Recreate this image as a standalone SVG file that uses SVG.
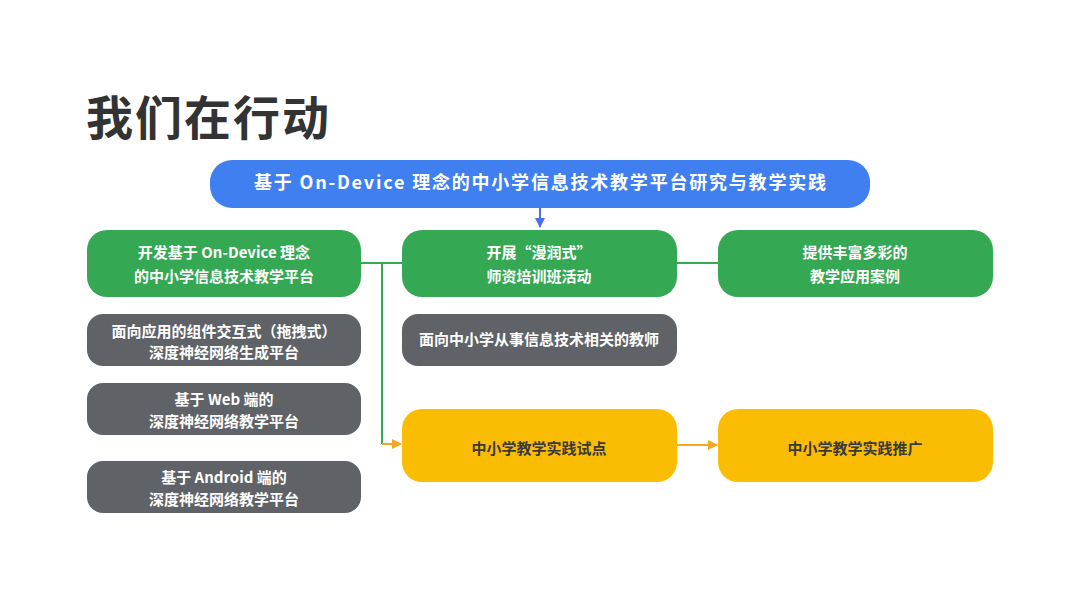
<svg xmlns="http://www.w3.org/2000/svg" width="1080" height="609" viewBox="0 0 1080 609">
<defs>
<style>
.t{font-family:"Noto Sans CJK SC","Noto Sans",sans-serif;font-weight:700;text-anchor:middle;}
.w{fill:#ffffff;font-size:15px;}
.d{fill:#3a3a3a;font-size:15px;}
.green{fill:#34a853;}
.gray{fill:#5f6368;}
.yel{fill:#fbbc04;}
</style>
<marker id="ab" viewBox="0 0 10 10" refX="9" refY="5" markerWidth="5" markerHeight="5" orient="auto"><path d="M0,0 L10,5 L0,10 z" fill="#4a6ef0"/></marker>
<marker id="ao" viewBox="0 0 10 10" refX="9" refY="5" markerWidth="5" markerHeight="5" orient="auto"><path d="M0,0 L10,5 L0,10 z" fill="#f5a623"/></marker>
</defs>
<rect width="1080" height="609" fill="#ffffff"/>
<text x="86" y="135" style="font-family:'Noto Sans CJK SC',sans-serif;font-weight:700;font-size:47px;letter-spacing:2px;fill:#333333">我们在行动</text>

<g id="connectors" fill="none" stroke-width="2">
<line x1="540" y1="208" x2="540" y2="227" stroke="#4a6ef0" marker-end="url(#ab)"/>
<line x1="361" y1="263" x2="402" y2="263" stroke="#34a853"/>
<line x1="382" y1="263" x2="382" y2="444" stroke="#34a853"/>
<line x1="382" y1="444" x2="401" y2="444" stroke="#f5a623" marker-end="url(#ao)"/>
<line x1="677" y1="263" x2="718" y2="263" stroke="#34a853"/>
<line x1="677" y1="445" x2="717" y2="445" stroke="#f5a623" marker-end="url(#ao)"/>
</g>

<g id="root">
<rect x="210" y="160" width="660" height="48" rx="22" fill="#3f7ff0"/>
<text class="t w" x="540" y="189" style="font-size:18px" textLength="572" lengthAdjust="spacing">基于 On-Device 理念的中小学信息技术教学平台研究与教学实践</text>
</g>

<g id="g1">
<rect class="green" x="87" y="230" width="274" height="67" rx="20"/>
<text class="t w" x="224" y="258">开发基于 On-Device 理念</text>
<text class="t w" x="224" y="282">的中小学信息技术教学平台</text>
</g>
<g id="g2">
<rect class="green" x="402" y="230" width="275" height="67" rx="20"/>
<text class="t w" x="539" y="258">开展“漫润式”</text>
<text class="t w" x="539" y="282">师资培训班活动</text>
</g>
<g id="g3">
<rect class="green" x="718" y="230" width="275" height="67" rx="20"/>
<text class="t w" x="855" y="258">提供丰富多彩的</text>
<text class="t w" x="855" y="282">教学应用案例</text>
</g>

<g id="p1">
<rect class="gray" x="87" y="314" width="274" height="52" rx="16"/>
<text class="t w" x="224" y="337">面向应用的组件交互式（拖拽式）</text>
<text class="t w" x="224" y="358">深度神经网络生成平台</text>
</g>
<g id="p2">
<rect class="gray" x="87" y="383" width="274" height="52" rx="16"/>
<text class="t w" x="224" y="405">基于 Web 端的</text>
<text class="t w" x="224" y="427">深度神经网络教学平台</text>
</g>
<g id="p3">
<rect class="gray" x="87" y="461" width="274" height="52" rx="16"/>
<text class="t w" x="224" y="483">基于 Android 端的</text>
<text class="t w" x="224" y="505">深度神经网络教学平台</text>
</g>
<g id="t1">
<rect class="gray" x="402" y="314" width="275" height="52" rx="16"/>
<text class="t w" x="539" y="345">面向中小学从事信息技术相关的教师</text>
</g>

<g id="y1">
<rect class="yel" x="402" y="409" width="275" height="73" rx="20"/>
<text class="t d" x="539" y="454">中小学教学实践试点</text>
</g>
<g id="y2">
<rect class="yel" x="718" y="409" width="275" height="73" rx="20"/>
<text class="t d" x="855" y="454">中小学教学实践推广</text>
</g>
</svg>
